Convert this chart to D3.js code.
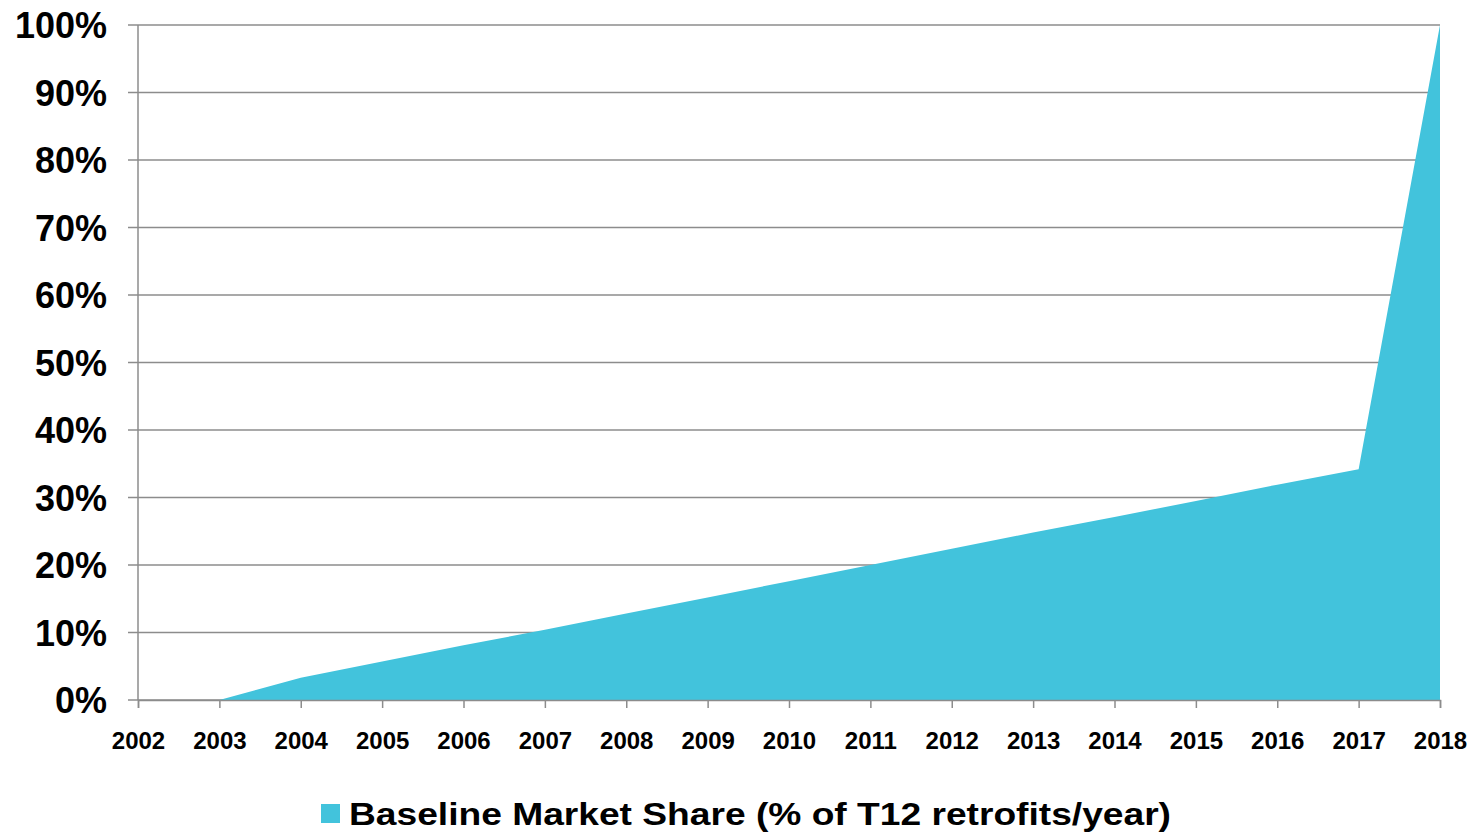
<!DOCTYPE html>
<html>
<head>
<meta charset="utf-8">
<script src="https://cdn.jsdelivr.net/npm/d3@7"></script>
<style>
  body { margin: 0; background: #fff; }
  svg { display: block; font-family: "Liberation Sans", Arial, sans-serif; }
</style>
</head>
<body>
<div id="vis"></div>
<script>
// chart data
const years = [2002, 2003, 2004, 2005, 2006, 2007, 2008, 2009, 2010, 2011, 2012, 2013, 2014, 2015, 2016, 2017, 2018];
const marketShare = [0, 0, 3.3, 5.7, 8.1, 10.4, 12.8, 15.2, 17.6, 20.0, 22.4, 24.8, 27.1, 29.5, 31.9, 34.2, 100];
const yTicks = [0, 10, 20, 30, 40, 50, 60, 70, 80, 90, 100];
const seriesName = "Baseline Market Share (% of T12 retrofits/year)";

const W = 1479, H = 834;
const margin = { top: 25, right: 39, bottom: 134, left: 138 };

const svg = d3.select("#vis").append("svg")
  .attr("width", W)
  .attr("height", H);

const x = d3.scaleLinear()
  .domain([years[0], years[years.length - 1]])
  .range([margin.left, W - margin.right]);

const y = d3.scaleLinear()
  .domain([0, 100])
  .range([H - margin.bottom, margin.top]);

// gridlines
svg.append("g")
  .selectAll("line")
  .data(yTicks)
  .join("line")
    .attr("x1", margin.left - 10)
    .attr("x2", W - margin.right)
    .attr("y1", d => y(d))
    .attr("y2", d => y(d))
    .attr("stroke", "#8c8c8c")
    .attr("stroke-width", 1.5);

// area
const area = d3.area()
  .x((d, i) => x(years[i]))
  .y0(y(0))
  .y1(d => y(d));

svg.append("path")
  .datum(marketShare)
  .attr("fill", "#42c3dc")
  .attr("d", area);

// y axis line
svg.append("line")
  .attr("x1", margin.left).attr("x2", margin.left)
  .attr("y1", y(100)).attr("y2", y(0))
  .attr("stroke", "#8c8c8c")
  .attr("stroke-width", 1.5);

// x axis
const xAxis = svg.append("g")
  .attr("transform", "translate(0," + y(0) + ")")
  .call(d3.axisBottom(x).tickValues(years).tickFormat(d3.format("d")).tickSize(8).tickPadding(0));
xAxis.select(".domain").attr("stroke", "#8c8c8c").attr("stroke-width", 1.5);
xAxis.selectAll(".tick line").attr("stroke", "#8c8c8c").attr("stroke-width", 1.5);
xAxis.selectAll(".tick text")
  .attr("y", 49)
  .attr("dy", null)
  .attr("fill", "#000")
  .style("font-family", "Liberation Sans, Arial, sans-serif")
  .style("font-size", "24px")
  .style("font-weight", "bold");

// y labels
svg.append("g")
  .selectAll("text")
  .data(yTicks)
  .join("text")
    .attr("x", margin.left - 31)
    .attr("y", d => y(d) + 13)
    .attr("text-anchor", "end")
    .style("font-size", "36px")
    .style("font-weight", "bold")
    .text(d => d + "%");

// legend
const legend = svg.append("g");
legend.append("rect")
  .attr("x", 321).attr("y", 804)
  .attr("width", 19).attr("height", 19)
  .attr("fill", "#42c3dc");
legend.append("text")
  .attr("x", 349)
  .attr("y", 825)
  .attr("textLength", 822)
  .attr("lengthAdjust", "spacingAndGlyphs")
  .style("font-size", "31px")
  .style("font-weight", "bold")
  .text(seriesName);
</script>
</body>
</html>
